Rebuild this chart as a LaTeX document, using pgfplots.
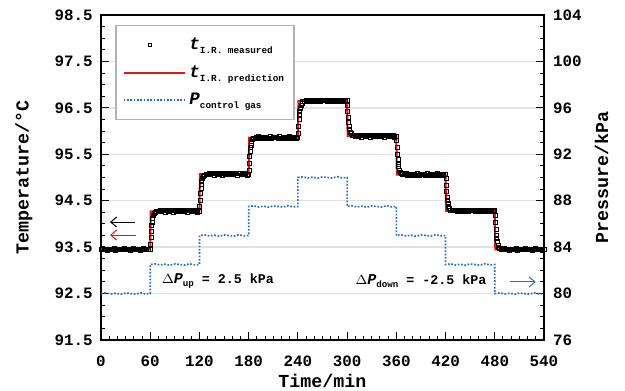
\documentclass[border=0pt]{standalone}
\usepackage{fontspec}
\setmainfont{Liberation Mono}
\usepackage{pgfplots}
\pgfplotsset{compat=1.18}
\usetikzlibrary{arrows.meta}
\definecolor{predred}{RGB}{230,20,20}
\definecolor{pblue}{RGB}{35,110,200}
\definecolor{gridgray}{RGB}{225,225,225}
\newcommand{\lt}[2]{{\fontsize{10.5}{10.5}\selectfont\bfseries\itshape #1}\raisebox{-0.45ex}{\fontsize{5.6}{5.6}\selectfont\bfseries #2}}
\newcommand{\at}[2]{{\fontsize{9}{9}\selectfont\bfseries\itshape #1}\raisebox{-0.45ex}{\fontsize{5.5}{5.5}\selectfont\bfseries #2}}
\pgfplotsset{
  markleg/.style={legend image code/.code={\draw[mark repeat=2, mark phase=2, ##1] plot coordinates {(0cm,0cm) (0.55cm,0cm) (1.3cm,0cm)};}},
  lineleg/.style={legend image code/.code={\draw[##1] (0cm,0cm) -- (1.3cm,0cm);}},
}
\begin{document}
\begin{tikzpicture}
\path[use as bounding box] (-60.6pt,-30.6pt) rectangle (314.4pt,204pt);
\pgfplotsset{
  base/.style={
    width=265.8pt, height=195pt, scale only axis,
    xmin=0, xmax=540,
    tick align=inside,
    major tick length=4.8pt, minor tick length=2.4pt,
    every tick/.style={black, line width=0.6pt},
    axis line style={black, line width=0.8pt},
    tick label style={font=\fontsize{9.5}{9.5}\selectfont\bfseries},
    /pgf/number format/assume math mode=true,
    label style={font=\fontsize{11}{11}\selectfont\bfseries},
  }
}
\begin{axis}[base,
  ymin=91.5, ymax=98.5,
  xtick={0,60,...,540}, minor x tick num=5,
  ytick={91.5,92.5,...,98.5}, minor y tick num=3,
  xtick pos=bottom, ytick pos=left,
  yticklabel style={xshift=-1.5pt, /pgf/number format/.cd, fixed, fixed zerofill, precision=1},
  xticklabel style={yshift=-6pt, /pgf/number format/.cd, fixed, precision=0},
  ymajorgrids, grid style={gridgray, line width=0.8pt},
  xlabel={Time/min}, ylabel={Temperature/°C},
  xlabel style={at={(axis description cs:0.5,-0.125)}, anchor=center},
  ylabel style={at={(axis description cs:-0.174,0.5)}, anchor=center, rotate=0},
]
\addplot[predred, line width=1.2pt, forget plot] coordinates {
(0,93.45)(60,93.45)(60.6,94.27)(120,94.27)(120.6,95.07)(180,95.07)(180.6,95.86)(240,95.86)(240.6,96.65)(300,96.65)(300.6,95.89)(360,95.89)(360.6,95.06)(420,95.06)(420.6,94.28)(480,94.28)(480.6,93.45)(540,93.45)};
\addplot[black, only marks, mark=square, mark size=1.2pt, mark options={line width=0.55pt}, forget plot] table {
0 93.45
2 93.47
4 93.44
6 93.46
8 93.43
10 93.46
12 93.45
14 93.44
16 93.47
18 93.43
20 93.46
22 93.45
24 93.46
26 93.44
28 93.47
30 93.44
32 93.45
34 93.46
36 93.43
38 93.46
40 93.47
42 93.44
44 93.45
46 93.46
48 93.43
50 93.45
52 93.47
54 93.44
56 93.45
58 93.46
60 93.45
60.5 93.55
61 93.70
61.5 93.84
62 93.96
62.5 94.04
63 94.11
64 94.18
65 94.22
66 94.25
68 94.26
70 94.27
72 94.29
74 94.26
76 94.28
78 94.25
80 94.28
82 94.27
84 94.26
86 94.29
88 94.25
90 94.28
92 94.27
94 94.28
96 94.26
98 94.29
100 94.26
102 94.27
104 94.28
106 94.25
108 94.28
110 94.29
112 94.26
114 94.27
116 94.28
118 94.25
120 94.27
120.5 94.37
121 94.51
121.5 94.65
122 94.77
122.5 94.85
123 94.91
124 94.98
125 95.02
126 95.05
128 95.06
130 95.07
132 95.09
134 95.06
136 95.08
138 95.05
140 95.08
142 95.07
144 95.06
146 95.09
148 95.05
150 95.08
152 95.07
154 95.08
156 95.06
158 95.09
160 95.06
162 95.07
164 95.08
166 95.05
168 95.08
170 95.09
172 95.06
174 95.07
176 95.08
178 95.05
180 95.07
180.5 95.16
181 95.31
181.5 95.45
182 95.56
182.5 95.64
183 95.70
184 95.77
185 95.81
186 95.84
188 95.85
190 95.86
192 95.88
194 95.85
196 95.87
198 95.84
200 95.87
202 95.86
204 95.85
206 95.88
208 95.84
210 95.87
212 95.86
214 95.87
216 95.85
218 95.88
220 95.85
222 95.86
224 95.87
226 95.84
228 95.87
230 95.88
232 95.85
234 95.86
236 95.87
238 95.84
240 95.86
240.5 95.95
241 96.10
241.5 96.24
242 96.35
242.5 96.43
243 96.49
244 96.56
245 96.60
246 96.63
248 96.64
250 96.65
252 96.67
254 96.64
256 96.66
258 96.63
260 96.66
262 96.65
264 96.64
266 96.67
268 96.63
270 96.66
272 96.65
274 96.66
276 96.64
278 96.67
280 96.64
282 96.65
284 96.66
286 96.63
288 96.66
290 96.67
292 96.64
294 96.65
296 96.66
298 96.63
300 96.65
300.5 96.56
301 96.42
301.5 96.29
302 96.18
302.5 96.10
303 96.04
304 95.97
305 95.94
306 95.91
308 95.90
310 95.89
312 95.91
314 95.88
316 95.90
318 95.87
320 95.90
322 95.89
324 95.88
326 95.91
328 95.87
330 95.90
332 95.89
334 95.90
336 95.88
338 95.91
340 95.88
342 95.89
344 95.90
346 95.87
348 95.90
350 95.91
352 95.88
354 95.89
356 95.90
358 95.87
360 95.89
360.5 95.79
361 95.64
361.5 95.49
362 95.38
362.5 95.29
363 95.23
364 95.15
365 95.11
366 95.08
368 95.07
370 95.06
372 95.08
374 95.05
376 95.07
378 95.04
380 95.07
382 95.06
384 95.05
386 95.08
388 95.04
390 95.07
392 95.06
394 95.07
396 95.05
398 95.08
400 95.05
402 95.06
404 95.07
406 95.04
408 95.07
410 95.08
412 95.05
414 95.06
416 95.07
418 95.04
420 95.06
420.5 94.97
421 94.83
421.5 94.69
422 94.58
422.5 94.50
423 94.44
424 94.37
425 94.33
426 94.30
428 94.29
430 94.28
432 94.30
434 94.27
436 94.29
438 94.26
440 94.29
442 94.28
444 94.27
446 94.30
448 94.26
450 94.29
452 94.28
454 94.29
456 94.27
458 94.30
460 94.27
462 94.28
464 94.29
466 94.26
468 94.29
470 94.30
472 94.27
474 94.28
476 94.29
478 94.26
480 94.28
480.5 94.18
481 94.03
481.5 93.88
482 93.76
482.5 93.68
483 93.62
484 93.54
485 93.50
486 93.47
488 93.46
490 93.45
492 93.47
494 93.44
496 93.46
498 93.43
500 93.46
502 93.45
504 93.44
506 93.47
508 93.43
510 93.46
512 93.45
514 93.46
516 93.44
518 93.47
520 93.44
522 93.45
524 93.46
526 93.43
528 93.46
530 93.47
532 93.44
534 93.45
536 93.46
538 93.43
540 93.45
};
\draw[black, line width=0.6pt, -{Straight Barb[length=3.5pt,width=6pt]}] (axis cs:41,94.04) -- (axis cs:11,94.04);
\draw[predred, line width=0.6pt, -{Straight Barb[length=3.5pt,width=6pt]}] (axis cs:43,93.76) -- (axis cs:11,93.76);
\end{axis}
\begin{axis}[base,
  ymin=76, ymax=104,
  axis x line=none, axis y line*=right,
  ytick={76,80,...,104}, minor y tick num=3,
  yticklabel style={xshift=2pt},
  ylabel={Pressure/kPa},
  ylabel style={at={(axis description cs:1.130,0.5)}, anchor=center},
  legend style={at={(0.032,0.969)}, anchor=north west, draw=gray!60, line width=0.8pt, fill=white,
    inner xsep=4pt, inner ysep=5.5pt, row sep=4pt, font=\bfseries,
    nodes={inner sep=2pt}},
  legend cell align=left,
]
\addlegendimage{black, only marks, mark=square, mark size=0.9pt, mark options={line width=0.4pt}, markleg}
\addlegendentry{\lt{t}{I.R. measured}}
\addlegendimage{predred, line width=1.2pt, lineleg}
\addlegendentry{\lt{t}{I.R. prediction}}
\addlegendimage{pblue, densely dotted, line width=1pt, lineleg}
\addlegendentry{\lt{P}{control gas}}
\addplot[pblue, densely dotted, line width=1pt, forget plot] table {
0 80.00
6 80.06
12 79.96
18 80.03
24 79.94
30 80.05
36 80.00
42 79.95
48 80.07
54 79.97
60 80.00
60 82.50
66 82.56
72 82.46
78 82.53
84 82.44
90 82.55
96 82.50
102 82.45
108 82.57
114 82.47
120 82.50
120 85.00
126 85.06
132 84.96
138 85.03
144 84.94
150 85.05
156 85.00
162 84.95
168 85.07
174 84.97
180 85.00
180 87.50
186 87.56
192 87.46
198 87.53
204 87.44
210 87.55
216 87.50
222 87.45
228 87.57
234 87.47
240 87.50
240 90.00
246 90.06
252 89.96
258 90.03
264 89.94
270 90.05
276 90.00
282 89.95
288 90.07
294 89.97
300 90.00
300 87.50
306 87.56
312 87.46
318 87.53
324 87.44
330 87.55
336 87.50
342 87.45
348 87.57
354 87.47
360 87.50
360 85.00
366 85.06
372 84.96
378 85.03
384 84.94
390 85.05
396 85.00
402 84.95
408 85.07
414 84.97
420 85.00
420 82.50
426 82.56
432 82.46
438 82.53
444 82.44
450 82.55
456 82.50
462 82.45
468 82.57
474 82.47
480 82.50
480 80.00
486 80.06
492 79.96
498 80.03
504 79.94
510 80.05
516 80.00
522 79.95
528 80.07
534 79.97
540 80.00
};
\node[font=\fontsize{8}{8}\selectfont\bfseries] at (axis cs:142.6,81.1) {$\Delta$\at{P}{up} = 2.5 kPa};
\node[font=\fontsize{8}{8}\selectfont\bfseries] at (axis cs:390,81.1) {$\Delta$\at{P}{down} = -2.5 kPa};
\draw[pblue, line width=0.6pt, -{Straight Barb[length=3.5pt,width=6pt]}] (axis cs:498,81.0) -- (axis cs:530,81.0);
\end{axis}
\end{tikzpicture}
\end{document}
